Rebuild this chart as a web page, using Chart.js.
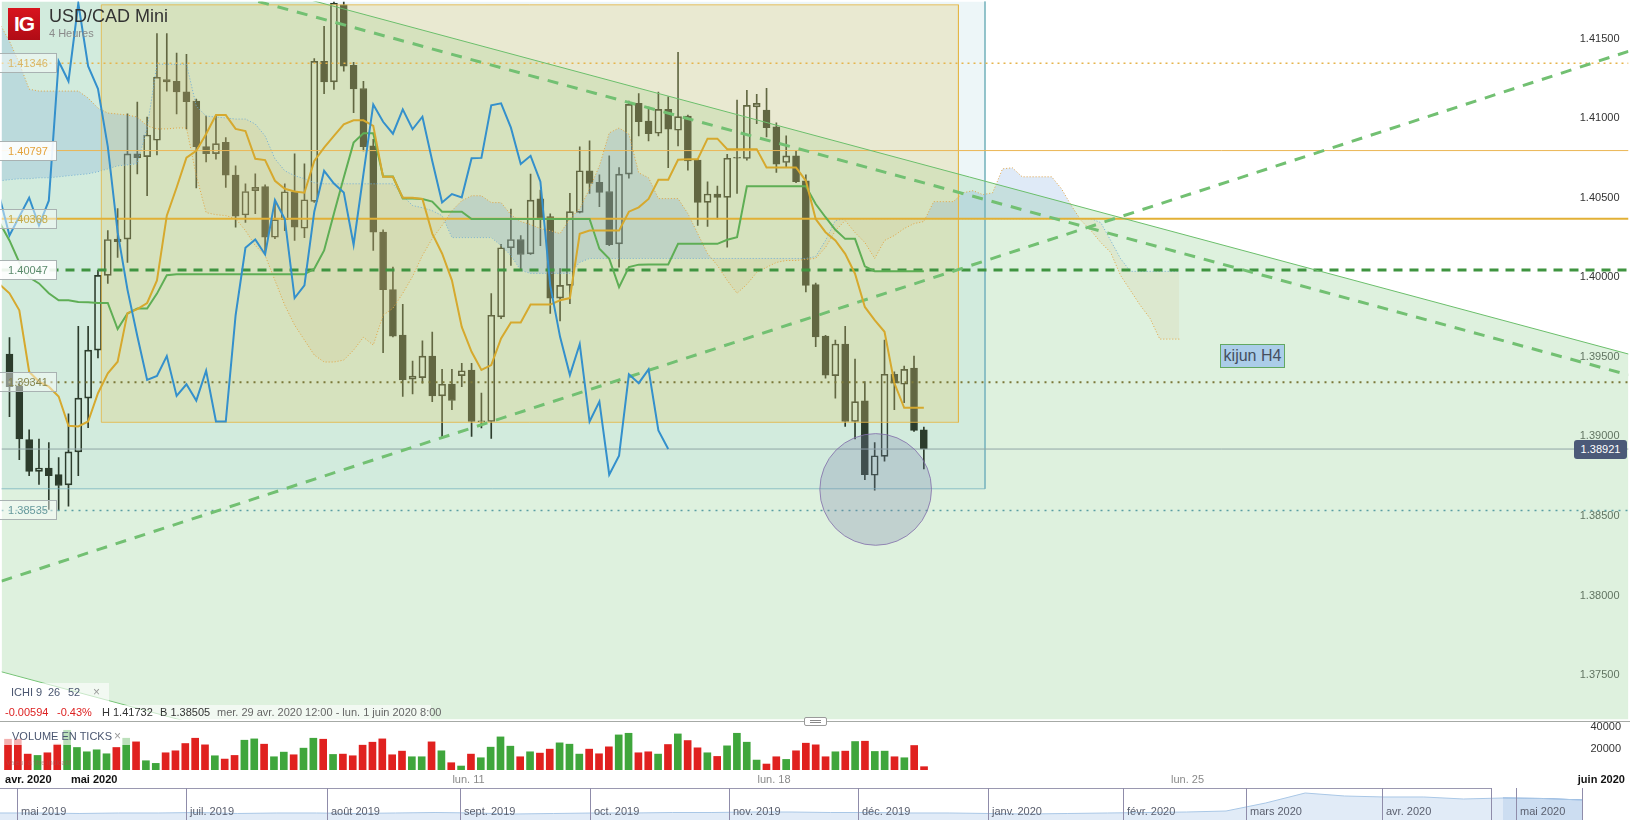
<!DOCTYPE html>
<html>
<head>
<meta charset="utf-8">
<title>USD/CAD Mini</title>
<script src="https://cdn.jsdelivr.net/npm/chart.js@4.4.1/dist/chart.umd.min.js"></script>
<style>
  html, body { margin: 0; padding: 0; background: #fff; }
  body { position: relative; width: 1630px; height: 820px; overflow: hidden;
         font-family: "Liberation Sans", Arial, sans-serif; }
  canvas { position: absolute; left: 0; }
  .t { position: absolute; white-space: nowrap; line-height: 1; }
  .box { position: absolute; }
  .lvl { position: absolute; left: 0; width: 57px; height: 20px; box-sizing: border-box;
         border: 1px solid #a9b2b2; border-left: none; font-size: 11px; line-height: 18px; text-align: center; }
  .sep { position: absolute; top: 788px; width: 1px; height: 32px; background: #8f8caa; }
  .navlbl { position: absolute; top: 806px; font-size: 11px; line-height: 1; color: #5a5f6e; white-space: nowrap; }
</style>
</head>
<body>
<canvas id="main" width="1630" height="721" style="top:0"></canvas>
<canvas id="vol" width="1630" height="66" style="top:722px"></canvas>
<canvas id="nav" width="1582" height="32" style="top:788px"></canvas>

<div class="box" style="left:8px;top:8px;width:32px;height:32px;background:linear-gradient(#d8141e,#b00c16);color:#fff;font:bold 21px/32px 'Liberation Sans',Arial,sans-serif;text-align:center;letter-spacing:-1px">IG</div>
<div class="t" style="left:49px;top:7px;font-size:18px;color:#333">USD/CAD Mini</div>
<div class="t" style="left:49px;top:28px;font-size:11px;color:#8a8a8a">4 Heures</div>

<div class="box" style="left:0;top:721px;width:1630px;height:1px;background:#a6aaa6"></div>
<div class="box" style="left:804px;top:717px;width:21px;height:7px;border:1px solid #9a9a9a;border-radius:2px;background:#fff">
  <div class="box" style="left:5px;top:2px;width:11px;height:1px;background:#888"></div>
  <div class="box" style="left:5px;top:4px;width:11px;height:1px;background:#888"></div>
</div>

<div class="box" style="left:0;top:683px;width:109px;height:19px;background:rgba(255,255,255,0.6)"></div>
<div class="t" style="left:11px;top:687px;font-size:11px;color:#4a5670">ICHI</div>
<div class="t" style="left:36px;top:687px;font-size:11px;color:#4a5670">9</div>
<div class="t" style="left:48px;top:687px;font-size:11px;color:#4a5670">26</div>
<div class="t" style="left:68px;top:687px;font-size:11px;color:#4a5670">52</div>
<div class="t" style="left:93px;top:686px;font-size:12px;color:#9a9a9a">×</div>

<div class="box" style="left:0;top:705px;width:431px;height:15px;background:rgba(255,255,255,0.6)"></div>
<div class="t" style="left:5px;top:707px;font-size:11px;color:#dd2222">-0.00594</div>
<div class="t" style="left:57px;top:707px;font-size:11px;color:#dd2222">-0.43%</div>
<div class="t" style="left:102px;top:707px;font-size:11px;color:#333">H 1.41732</div>
<div class="t" style="left:160px;top:707px;font-size:11px;color:#333">B 1.38505</div>
<div class="t" style="left:217px;top:707px;font-size:11px;color:#666">mer. 29 avr. 2020 12:00 - lun. 1 juin 2020 8:00</div>

<div class="box" style="left:0;top:728px;width:131px;height:17px;background:rgba(255,255,255,0.65)"></div>
<div class="t" style="left:12px;top:731px;font-size:11px;color:#4a5670">VOLUME EN TICKS</div>
<div class="t" style="left:114px;top:730px;font-size:12px;color:#9a9a9a">×</div>
<div class="t" style="left:6px;top:759px;font-size:7px;color:rgba(160,90,90,0.55)">Valeur à titre indicatif</div>

<div class="box" style="left:0;top:788px;width:1491px;height:1px;background:#9a98b0"></div>

<script>
// 4h candles, index 0 = first visible candle
var open = [1.39518, 1.39318, 1.38980, 1.38781, 1.38802, 1.38760, 1.38696, 1.38903, 1.39241, 1.39543,
  1.40013, 1.40240, 1.40240, 1.40776, 1.40759, 1.40862, 1.41244, 1.41233, 1.41166, 1.41108,
  1.40822, 1.40778, 1.40849, 1.40643, 1.40392, 1.40545, 1.40570, 1.40252, 1.40363, 1.40538,
  1.40309, 1.40478, 1.41358, 1.41229, 1.41713, 1.41333, 1.41187, 1.40827, 1.40284, 1.39923,
  1.39637, 1.39360, 1.39370, 1.39505, 1.39255, 1.39330, 1.39382, 1.39418, 1.39092, 1.39094,
  1.39752, 1.40186, 1.40238, 1.40148, 1.40493, 1.40382, 1.39870, 1.39950, 1.40409, 1.40670,
  1.40597, 1.40540, 1.40211, 1.40649, 1.41094, 1.40983, 1.40906, 1.41056, 1.40925, 1.41014,
  1.40737, 1.40471, 1.40524, 1.40503, 1.40749, 1.40747, 1.41072, 1.41052, 1.40946, 1.40722,
  1.40764, 1.40607, 1.39954, 1.39631, 1.39382, 1.39581, 1.39094, 1.39224, 1.38756, 1.38875,
  1.39391, 1.39328, 1.39430, 1.39042];
var high = [1.39622, 1.39345, 1.39042, 1.38984, 1.38961, 1.38867, 1.39142, 1.39693, 1.39693, 1.40044,
  1.40294, 1.40432, 1.41028, 1.41102, 1.41008, 1.41532, 1.41532, 1.41410, 1.41402, 1.41121,
  1.41014, 1.41014, 1.40878, 1.40701, 1.40588, 1.40651, 1.40582, 1.40482, 1.40588, 1.40776,
  1.40714, 1.41375, 1.41578, 1.41732, 1.41732, 1.41352, 1.41233, 1.40868, 1.40299, 1.40064,
  1.39831, 1.39474, 1.39601, 1.39656, 1.39422, 1.39422, 1.39460, 1.39460, 1.39272, 1.39898,
  1.40207, 1.40430, 1.40263, 1.40649, 1.40549, 1.40399, 1.40056, 1.40528, 1.40820, 1.40858,
  1.40645, 1.40764, 1.40690, 1.41108, 1.41156, 1.41070, 1.41164, 1.41135, 1.41415, 1.41020,
  1.40743, 1.40601, 1.40574, 1.40774, 1.41114, 1.41175, 1.41150, 1.41188, 1.40972, 1.40889,
  1.40795, 1.40645, 1.39964, 1.39635, 1.39606, 1.39693, 1.39487, 1.39345, 1.38961, 1.39606,
  1.39407, 1.39443, 1.39505, 1.39059];
var low = [1.39125, 1.38854, 1.38754, 1.38698, 1.38541, 1.38535, 1.38562, 1.38754, 1.39055, 1.39493,
  1.39962, 1.40125, 1.40094, 1.40651, 1.40513, 1.40770, 1.41171, 1.41027, 1.40933, 1.40563,
  1.40725, 1.40743, 1.40565, 1.40315, 1.40346, 1.40401, 1.40150, 1.40244, 1.40294, 1.40232,
  1.40250, 1.40471, 1.41154, 1.41181, 1.41296, 1.41035, 1.40795, 1.40169, 1.39526, 1.39626,
  1.39251, 1.39268, 1.39335, 1.39219, 1.38988, 1.39168, 1.39313, 1.39000, 1.39053, 1.38988,
  1.39741, 1.40075, 1.40044, 1.40144, 1.40200, 1.39773, 1.39726, 1.39835, 1.40405, 1.40528,
  1.40444, 1.40200, 1.40064, 1.40624, 1.40889, 1.40858, 1.40889, 1.40690, 1.40826, 1.40674,
  1.40326, 1.40321, 1.40367, 1.40190, 1.40528, 1.40737, 1.40966, 1.40883, 1.40659, 1.40690,
  1.40595, 1.39908, 1.39564, 1.39366, 1.39241, 1.39063, 1.38984, 1.38729, 1.38662, 1.38844,
  1.39168, 1.39213, 1.39032, 1.38796];
var close = [1.39313, 1.38984, 1.38781, 1.38802, 1.38754, 1.38692, 1.38903, 1.39241, 1.39543, 1.40013,
  1.40238, 1.40225, 1.40776, 1.40753, 1.40895, 1.41258, 1.41229, 1.41166, 1.41104, 1.40822,
  1.40778, 1.40841, 1.40643, 1.40384, 1.40540, 1.40566, 1.40252, 1.40363, 1.40538, 1.40315,
  1.40488, 1.41358, 1.41229, 1.41723, 1.41327, 1.41185, 1.40822, 1.40284, 1.39923, 1.39631,
  1.39355, 1.39380, 1.39505, 1.39255, 1.39328, 1.39226, 1.39413, 1.39094, 1.39096, 1.39762,
  1.40186, 1.40238, 1.40144, 1.40486, 1.40367, 1.39870, 1.39950, 1.40413, 1.40670, 1.40590,
  1.40534, 1.40205, 1.40649, 1.41087, 1.40978, 1.40903, 1.41056, 1.40931, 1.41010, 1.40732,
  1.40471, 1.40524, 1.40503, 1.40749, 1.40751, 1.41081, 1.41094, 1.40941, 1.40712, 1.40764,
  1.40601, 1.39950, 1.39626, 1.39386, 1.39581, 1.39094, 1.39219, 1.38760, 1.38879, 1.39391,
  1.39335, 1.39422, 1.39038, 1.38921];
var volume = [28830, 28830, 14880, 13640, 16120, 24180, 37200, 21080, 17050, 18910,
  15190, 21080, 29760, 26350, 8680, 6200, 16120, 17980, 24800, 29760,
  23560, 13330, 10230, 13640, 27900, 29140, 24180, 12400, 16740, 14260,
  20460, 29760, 28830, 14570, 14880, 13330, 23250, 26040, 29140, 14260,
  17670, 12400, 12400, 26350, 17980, 6820, 3720, 14880, 11470, 21390,
  31000, 22320, 12400, 17050, 15810, 19530, 25420, 24180, 14880, 19530,
  15190, 21700, 32860, 34410, 16120, 17050, 14880, 23870, 33790, 27590,
  20770, 16120, 12710, 22630, 34410, 26040, 9300, 5580, 12400, 9920,
  17980, 25110, 23560, 12400, 17050, 17670, 26660, 26970, 17360, 17670,
  12400, 11470, 22940, 3100];

// ichimoku 9/26/52, these start one slot before candle 0
var LINE_START = -1;
var tenkan = [1.39956, 1.39900, 1.39793, 1.39407, 1.39345, 1.39313, 1.39251, 1.39067, 1.39063, 1.39094,
  1.39272, 1.39397, 1.39470, 1.39775, 1.39800, 1.39839, 1.39981, 1.40388, 1.40565, 1.40753,
  1.40795, 1.40901, 1.41020, 1.41020, 1.40933, 1.40920, 1.40745, 1.40737, 1.40607, 1.40557,
  1.40540, 1.40532, 1.40732, 1.40816, 1.40889, 1.40962, 1.40987, 1.40987, 1.40952, 1.40632,
  1.40632, 1.40501, 1.40501, 1.40493, 1.40275, 1.40150, 1.39981, 1.39689, 1.39532, 1.39418,
  1.39449, 1.39616, 1.39716, 1.39716, 1.39829, 1.39829, 1.39829, 1.39856, 1.39870, 1.40274,
  1.40294, 1.40294, 1.40294, 1.40294, 1.40413, 1.40440, 1.40493, 1.40614, 1.40614, 1.40739,
  1.40743, 1.40743, 1.40872, 1.40872, 1.40806, 1.40806, 1.40806, 1.40806, 1.40691, 1.40691,
  1.40691, 1.40691, 1.40607, 1.40367, 1.40284, 1.40232, 1.40148, 1.40023, 1.39814, 1.39731,
  1.39658, 1.39336, 1.39180, 1.39180, 1.39180];
var kijun = [1.40344, 1.40232, 1.40094, 1.40000, 1.39962, 1.39900, 1.39856, 1.39856, 1.39845, 1.39844,
  1.39839, 1.39839, 1.39675, 1.39773, 1.39804, 1.39804, 1.39898, 1.40013, 1.40019, 1.40019,
  1.40019, 1.40019, 1.40019, 1.40019, 1.40019, 1.40019, 1.40019, 1.40019, 1.40019, 1.40019,
  1.40019, 1.40019, 1.40054, 1.40169, 1.40401, 1.40628, 1.40847, 1.40906, 1.40906, 1.40634,
  1.40634, 1.40496, 1.40496, 1.40493, 1.40476, 1.40413, 1.40413, 1.40413, 1.40367, 1.40367,
  1.40367, 1.40367, 1.40367, 1.40367, 1.40367, 1.40367, 1.40367, 1.40367, 1.40367, 1.40367,
  1.40367, 1.40180, 1.40117, 1.39939, 1.40065, 1.40080, 1.40081, 1.40081, 1.40081, 1.40211,
  1.40211, 1.40211, 1.40211, 1.40211, 1.40236, 1.40252, 1.40572, 1.40572, 1.40572, 1.40572,
  1.40572, 1.40572, 1.40572, 1.40461, 1.40378, 1.40299, 1.40242, 1.40242, 1.40069, 1.40039,
  1.40039, 1.40039, 1.40039, 1.40039, 1.40039];
var chikou = [1.40503, 1.40263, 1.40382, 1.40501, 1.40326, 1.40482, 1.41358, 1.41233, 1.41723, 1.41327,
  1.41185, 1.40822, 1.40284, 1.39923, 1.39631, 1.39355, 1.39380, 1.39505, 1.39255, 1.39328,
  1.39226, 1.39413, 1.39094, 1.39094, 1.39762, 1.40186, 1.40238, 1.40144, 1.40486, 1.40367,
  1.39870, 1.39950, 1.40413, 1.40670, 1.40590, 1.40534, 1.40205, 1.40649, 1.41087, 1.40978,
  1.40903, 1.41056, 1.40931, 1.41010, 1.40732, 1.40471, 1.40524, 1.40503, 1.40749, 1.40751,
  1.41081, 1.41094, 1.40941, 1.40712, 1.40764, 1.40601, 1.39950, 1.39626, 1.39386, 1.39581,
  1.39094, 1.39219, 1.38760, 1.38879, 1.39391, 1.39335, 1.39422, 1.39038, 1.38921];
var spanA = [1.41596, 1.41484, 1.41346, 1.41183, 1.41171, 1.41171, 1.41171, 1.41171, 1.41171, 1.41127,
  1.41064, 1.41033, 1.41027, 1.41020, 1.41008, 1.40952, 1.40933, 1.40933, 1.40939, 1.40939,
  1.40639, 1.40407, 1.40394, 1.40388, 1.40369, 1.40294, 1.40200, 1.40138, 1.39981, 1.39825,
  1.39700, 1.39606, 1.39512, 1.39468, 1.39468, 1.39480, 1.39543, 1.39624, 1.39574, 1.39762,
  1.39806, 1.39900, 1.40006, 1.40138, 1.40244, 1.40326, 1.40419, 1.40482, 1.40513, 1.40513,
  1.40470, 1.40470, 1.40394, 1.40351, 1.40332, 1.40307, 1.40294, 1.40275, 1.40369, 1.40432,
  1.40557, 1.40701, 1.40908, 1.40939, 1.40901, 1.40657, 1.40626, 1.40495, 1.40495, 1.40495,
  1.40401, 1.40275, 1.40150, 1.40075, 1.39981, 1.39900, 1.39956, 1.40031, 1.40063, 1.40094,
  1.40106, 1.40106, 1.40113, 1.40119, 1.40188, 1.40294, 1.40357, 1.40282, 1.40219, 1.40119,
  1.40232, 1.40263, 1.40307, 1.40338, 1.40351, 1.40476, 1.40476, 1.40476, 1.40532, 1.40545,
  1.40520, 1.40532, 1.40682, 1.40689, 1.40632, 1.40632, 1.40632, 1.40632, 1.40557, 1.40451,
  1.40357, 1.40294, 1.40219, 1.40157, 1.40013, 1.39919, 1.39825, 1.39743, 1.39612, 1.39612,
  1.39612];
var spanB = [1.40607, 1.40614, 1.40620, 1.40620, 1.40626, 1.40626, 1.40632, 1.40639, 1.40645, 1.40651,
  1.40664, 1.40682, 1.40701, 1.40707, 1.40714, 1.40939, 1.41340, 1.41340, 1.41340, 1.41340,
  1.41077, 1.41014, 1.41008, 1.41002, 1.40995, 1.40995, 1.40964, 1.40889, 1.40745, 1.40670,
  1.40639, 1.40620, 1.40595, 1.40588, 1.40588, 1.40588, 1.40588, 1.40588, 1.40588, 1.40588,
  1.40588, 1.40513, 1.40451, 1.40438, 1.40419, 1.40388, 1.40250, 1.40250, 1.40250, 1.40250,
  1.40250, 1.40200, 1.40138, 1.40044, 1.40025, 1.40025, 1.40025, 1.40025, 1.40025, 1.40094,
  1.40119, 1.40119, 1.40119, 1.40119, 1.40119, 1.40119, 1.40119, 1.40119, 1.40119, 1.40119,
  1.40119, 1.40119, 1.40119, 1.40119, 1.40119, 1.40119, 1.40119, 1.40119, 1.40119, 1.40119,
  1.40119, 1.40119, 1.40119, 1.40131, 1.40232, 1.40357, 1.40369, 1.40369, 1.40369, 1.40369,
  1.40369, 1.40369, 1.40369, 1.40369, 1.40369, 1.40369, 1.40369, 1.40369, 1.40369, 1.40369,
  1.40369, 1.40369, 1.40369, 1.40369, 1.40369, 1.40369, 1.40369, 1.40369, 1.40369, 1.40369,
  1.40369, 1.40369, 1.40344, 1.40232, 1.40119, 1.40038, 1.40038, 1.40038, 1.40038, 1.40038,
  1.40038];

var priceTicks = [1.375, 1.38, 1.385, 1.39, 1.395, 1.40, 1.405, 1.41, 1.415];
var volumeTicks = [20000, 40000];
var timeTickAt = [2.06, 8.75, 46.75, 77.77, 119.75, 161.76];
var timeTickText = ['avr. 2020', 'mai 2020', 'lun. 11', 'lun. 18', 'lun. 25', 'juin 2020'];
var timeTickMajor = [true, true, false, false, false, true];
var levels = [1.41346, 1.40797, 1.40368, 1.40047, 1.39341, 1.38535];

// navigator (one year of closes, coarse)
var navValues = [1.3116, 1.3116, 1.3086, 1.3116, 1.3116, 1.3145, 1.3086, 1.3116, 1.3116, 1.3086,
  1.3116, 1.3145, 1.3116, 1.3056, 1.3086, 1.3116, 1.3116, 1.3145, 1.3145, 1.3175,
  1.3175, 1.3145, 1.3145, 1.3116, 1.3116, 1.3086, 1.3056, 1.3086, 1.3116, 1.3145,
  1.3175, 1.3234, 1.3709, 1.4303, 1.4125, 1.4066, 1.4066, 1.3947, 1.4006, 1.3977,
  1.3888];
var navMonths = ['mai 2019', 'juil. 2019', 'août 2019', 'sept. 2019', 'oct. 2019', 'nov. 2019',
  'déc. 2019', 'janv. 2020', 'févr. 2020', 'mars 2020', 'avr. 2020', 'mai 2020'];
var navMonthAt = [0.42, 4.70, 8.26, 11.64, 14.92, 18.44, 21.70, 24.97, 28.39, 31.50, 34.94, 38.32];
var navWindow = [37.69, 40];

// drawing tools, in (candle index, price)
var X_MIN = -0.812, X_MAX = 164.67;
var P_MIN = 1.37221, P_MAX = 1.41734;
var channelTop = [[X_MIN, 1.42265], [X_MAX, 1.39518]];
var channelBottom = [[X_MIN, 1.37521], [X_MAX, 1.34774]];
var trendDown = [[25.3, 1.41734], [X_MAX, 1.39387]];
var trendUp = [[X_MIN, 1.38091], [X_MAX, 1.41421]];
var boxBlue = { x0: -3, x1: 99.22, top: 1.42, bottom: 1.38671 };
var boxBeige = { x0: 9.34, x1: 96.52, top: 1.41713, bottom: 1.39089 };
var circle = { x: 88.1, y: 1.38667, r: 0.00351 };
var note = { x: 123.1, y: 1.39581, text: 'kijun H4' };

Chart.defaults.font.family = '"Liberation Sans", Arial, sans-serif';
Chart.defaults.font.size = 11;

var DARK = 'rgb(44,60,44)';
var HOLLOW = 'rgba(0,0,0,0)';

function series(values, start) {
  return values.map(function (v, i) { return { x: start + i, y: v }; });
}
function pts(list) {
  return list.map(function (p) { return { x: p[0], y: p[1] }; });
}
function ln(data, color, width, dash, order) {
  return { type: 'line', data: data, borderColor: color, borderWidth: width,
           borderDash: dash || [], fill: false, order: order, pointRadius: 0 };
}
function noPad(s) {
  s.paddingTop = 0; s.paddingBottom = 0; s.paddingLeft = 0; s.paddingRight = 0;
}

// wick split above / below the body so hollow bodies stay see-through
var wicksUp = open.map(function (o, i) { return { x: i, y: [Math.max(o, close[i]), high[i]] }; });
var wicksDown = open.map(function (o, i) { return { x: i, y: [low[i], Math.min(o, close[i])] }; });
var bodies = open.map(function (o, i) { return { x: i, y: [o, close[i]] }; });
var bodyColors = open.map(function (o, i) { return close[i] >= o ? HOLLOW : DARK; });
var volColors = open.map(function (o, i) { return close[i] >= o ? '#3fa63c' : '#e0211f'; });

var levelStyle = [
  { c: '#e6b44c', w: 1.5, d: [2, 4] },
  { c: '#ebb655', w: 1, d: [] },
  { c: '#e2b036', w: 2, d: [] },
  { c: '#3f9440', w: 3, d: [9, 7] },
  { c: '#7b7838', w: 2, d: [2, 5] },
  { c: '#5a9ea3', w: 1.5, d: [2, 5] }
];
var levelText = ['#d9b766', '#e3a23a', '#c4ac4e', '#5b8a6c', '#86864e', '#66999c'];
var levelBg = ['rgba(255,255,255,0.45)', 'rgba(255,255,255,0.9)', 'rgba(255,255,255,0.45)',
  'rgba(255,255,255,0.9)', 'rgba(255,255,255,0.45)', 'rgba(255,255,255,0.45)'];

var lastClose = close[close.length - 1];

var datasets = [
  { type: 'line', data: pts(channelTop), borderWidth: 0, backgroundColor: 'rgba(168,218,168,0.38)', fill: '+1', order: 100, pointRadius: 0 },
  ln(pts(channelBottom), '#6cbf6c', 1, [], 100),
  { type: 'line', data: [{ x: boxBlue.x0, y: boxBlue.top }, { x: boxBlue.x1, y: boxBlue.top }], borderWidth: 0,
    backgroundColor: 'rgba(150,200,215,0.17)', fill: { value: boxBlue.bottom }, order: 99, pointRadius: 0 },
  { type: 'bar', data: wicksUp, backgroundColor: DARK, barThickness: 1, grouped: false, order: 91 },
  { type: 'bar', data: wicksDown, backgroundColor: DARK, barThickness: 1, grouped: false, order: 91 },
  { type: 'bar', data: bodies, backgroundColor: bodyColors, borderColor: DARK, borderWidth: 1, borderSkipped: false,
    barThickness: 7, grouped: false, minBarLength: 1, order: 90 },
  { type: 'line', data: [{ x: boxBeige.x0, y: boxBeige.top }, { x: boxBeige.x1, y: boxBeige.top }], borderWidth: 0,
    backgroundColor: 'rgba(225,205,120,0.3)', fill: { value: boxBeige.bottom }, order: 80, pointRadius: 0 },
  { type: 'line', data: series(spanA, LINE_START), borderColor: '#e2a443', borderWidth: 1, borderDash: [1, 2],
    fill: { target: '+1', above: 'rgba(110,160,220,0.22)', below: 'rgba(205,180,120,0.15)' }, order: 70, pointRadius: 0 },
  ln(series(spanB, LINE_START), '#6fb0d8', 1, [1, 2], 70),
  ln(pts([[boxBlue.x1, boxBlue.top], [boxBlue.x1, boxBlue.bottom], [boxBlue.x0, boxBlue.bottom]]), 'rgba(120,180,190,0.8)', 1, [], 60),
  ln(pts([[boxBeige.x0, boxBeige.top], [boxBeige.x1, boxBeige.top], [boxBeige.x1, boxBeige.bottom],
          [boxBeige.x0, boxBeige.bottom], [boxBeige.x0, boxBeige.top]]), 'rgba(228,182,70,0.85)', 1, [], 60)
];
levels.forEach(function (p, i) {
  datasets.push(ln(pts([[X_MIN, p], [X_MAX, p]]), levelStyle[i].c, levelStyle[i].w, levelStyle[i].d, 50));
});
datasets.push(ln(pts([[X_MIN, lastClose], [X_MAX, lastClose]]), '#8fa5a5', 1, [], 50));
datasets.push(ln(pts(channelTop), '#6cbf6c', 1, [], 40));
datasets.push(ln(pts(trendDown), '#72c072', 3, [11, 9], 40));
datasets.push(ln(pts(trendUp), '#72c072', 3, [11, 9], 40));
datasets.push(ln(series(kijun, LINE_START), '#5fae55', 2, [], 32));
datasets.push(ln(series(tenkan, LINE_START), '#d6a92e', 2, [], 31));
datasets.push(ln(series(chikou, LINE_START), '#3490cc', 2, [], 30));

var circlePlugin = {
  id: 'circle',
  afterDatasetsDraw: function (chart) {
    var xs = chart.scales.x, ys = chart.scales.y, ctx = chart.ctx;
    var cx = xs.getPixelForValue(circle.x), cy = ys.getPixelForValue(circle.y);
    var r = Math.abs(ys.getPixelForValue(circle.y + circle.r) - cy);
    ctx.save();
    ctx.beginPath();
    ctx.arc(cx, cy, r, 0, Math.PI * 2);
    ctx.fillStyle = 'rgba(120,130,170,0.28)';
    ctx.fill();
    ctx.lineWidth = 1;
    ctx.strokeStyle = 'rgba(130,110,170,0.8)';
    ctx.stroke();
    ctx.restore();
  }
};

var mainChart = new Chart(document.getElementById('main'), {
  type: 'bar',
  data: { datasets: datasets },
  options: {
    responsive: false, animation: false, events: [],
    layout: { padding: 0 },
    plugins: { legend: { display: false }, tooltip: { enabled: false } },
    elements: { point: { radius: 0 }, line: { tension: 0 } },
    scales: {
      x: { type: 'linear', min: X_MIN, max: X_MAX, offset: false, display: false },
      y: { type: 'linear', position: 'right', min: P_MIN, max: P_MAX, z: 1,
           grid: { display: false, drawTicks: false }, border: { display: false },
           afterFit: function (s) { s.width = 0; noPad(s); },
           afterBuildTicks: function (s) { s.ticks = priceTicks.map(function (v) { return { value: v }; }); },
           ticks: { mirror: true, padding: 9, color: '#333', callback: function (v) { return Number(v).toFixed(5); } } }
    }
  },
  plugins: [circlePlugin]
});

var volChart = new Chart(document.getElementById('vol'), {
  type: 'bar',
  data: { datasets: [{ data: volume.map(function (v, i) { return { x: i, y: v }; }),
                       backgroundColor: volColors, barThickness: 7, grouped: false }] },
  options: {
    responsive: false, animation: false, events: [],
    layout: { padding: 0 },
    plugins: { legend: { display: false }, tooltip: { enabled: false } },
    scales: {
      x: { type: 'linear', min: X_MIN, max: X_MAX, offset: false,
           grid: { display: false, drawTicks: false }, border: { display: false },
           afterFit: function (s) { s.height = 18; noPad(s); },
           afterBuildTicks: function (s) { s.ticks = timeTickAt.map(function (v) { return { value: v }; }); },
           ticks: { autoSkip: false, maxRotation: 0, minRotation: 0, padding: 3,
                    callback: function (v, i) { return timeTickText[i]; },
                    color: function (c) { return timeTickMajor[c.index] ? '#111' : '#8a8a8a'; },
                    font: function (c) { return { size: 11, weight: timeTickMajor[c.index] ? 'bold' : 'normal' }; } } },
      y: { type: 'linear', position: 'right', min: 0, max: 44960, z: 1,
           grid: { display: false, drawTicks: false }, border: { display: false },
           afterFit: function (s) { s.width = 0; noPad(s); },
           afterBuildTicks: function (s) { s.ticks = volumeTicks.map(function (v) { return { value: v }; }); },
           ticks: { mirror: true, padding: 9, color: '#333', callback: function (v) { return String(v); } } }
    }
  }
});

// mirrored right labels: make them end 9px inside the right edge whatever way the padding is applied
[mainChart, volChart].forEach(function (chart) {
  var s = chart.scales.y;
  var items = s.getLabelItems();
  if (items.length && items[0].options.translation[0] > s.left) {
    chart.options.scales.y.ticks.padding = -9;
    chart.update();
  }
});

var navChart = new Chart(document.getElementById('nav'), {
  type: 'line',
  data: { datasets: [
    { data: series(navValues, 0), borderColor: '#a9c7e6', borderWidth: 1, fill: 'start',
      backgroundColor: 'rgba(205,222,242,0.6)', pointRadius: 0 },
    { data: series(navValues.slice(38), 38), borderColor: '#5b8fd0', borderWidth: 1, fill: 'start',
      backgroundColor: 'rgba(140,180,225,0.45)', pointRadius: 0 }
  ] },
  options: {
    responsive: false, animation: false, events: [],
    layout: { padding: 0 },
    plugins: { legend: { display: false }, tooltip: { enabled: false } },
    elements: { line: { tension: 0 } },
    scales: {
      x: { type: 'linear', min: 0, max: 40, display: false },
      y: { type: 'linear', min: 1.27, max: 1.46, display: false }
    }
  }
});

// html labels placed through the chart scales
var ys = mainChart.scales.y, xs = mainChart.scales.x;
levels.forEach(function (p, i) {
  var d = document.createElement('div');
  d.className = 'lvl';
  d.style.top = Math.round(ys.getPixelForValue(p) - 10) + 'px';
  d.style.color = levelText[i];
  d.style.background = levelBg[i];
  d.textContent = p.toFixed(5);
  document.body.appendChild(d);
});

var tag = document.createElement('div');
tag.className = 'box';
tag.style.cssText = 'left:1574px;width:53px;height:19px;background:#4b5a78;color:#fff;border-radius:3px;' +
  'font-size:11px;line-height:19px;text-align:center;top:' + Math.round(ys.getPixelForValue(lastClose) - 9.5) + 'px';
tag.textContent = lastClose.toFixed(5);
document.body.appendChild(tag);

var kn = document.createElement('div');
kn.className = 'box';
kn.style.cssText = 'width:65px;height:24px;box-sizing:border-box;background:#abcde9;border:1px solid #62a862;' +
  'color:#454f60;font-size:16px;line-height:22px;text-align:center;' +
  'left:' + Math.round(xs.getPixelForValue(note.x)) + 'px;top:' + Math.round(ys.getPixelForValue(note.y)) + 'px';
kn.textContent = note.text;
document.body.appendChild(kn);

var nx = navChart.scales.x;
navMonthAt.forEach(function (v, i) {
  var s = document.createElement('div');
  s.className = 'sep';
  s.style.left = Math.round(nx.getPixelForValue(v)) + 'px';
  document.body.appendChild(s);
  var l = document.createElement('div');
  l.className = 'navlbl';
  l.style.left = Math.round(nx.getPixelForValue(v) + 4) + 'px';
  l.textContent = navMonths[i];
  document.body.appendChild(l);
});
navWindow.forEach(function (v) {
  var s = document.createElement('div');
  s.className = 'sep';
  s.style.left = Math.round(nx.getPixelForValue(v)) + 'px';
  document.body.appendChild(s);
});
</script>
</body>
</html>
